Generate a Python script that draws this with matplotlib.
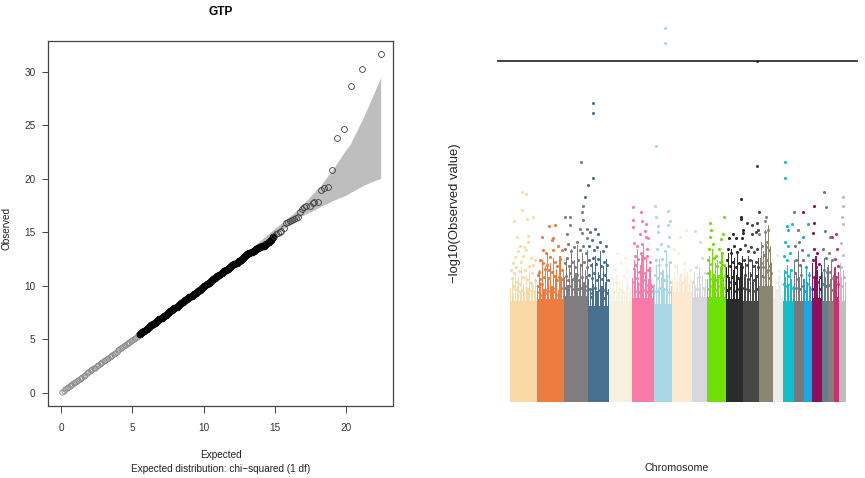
import matplotlib
matplotlib.use('Agg')
import matplotlib.pyplot as plt
import numpy as np

plt.rcParams['font.family'] = ['Liberation Sans', 'DejaVu Sans']

# QQ plot
low_exp = [0.1, 0.2, 0.3, 0.4, 0.5, 0.6, 0.7, 0.8, 0.9, 1.0, 1.1, 1.2, 1.3, 1.4, 1.5, 1.6, 1.7, 1.8, 1.9, 2.0,
           2.1, 2.2, 2.3, 2.4, 2.5, 2.6, 2.7, 2.8, 2.9, 3.0, 3.1, 3.2, 3.3, 3.4, 3.5, 3.6, 3.7, 3.8, 3.9, 4.0,
           4.1, 4.2, 4.3, 4.4, 4.5, 4.6, 4.7, 4.8, 4.9, 5.0, 5.1, 5.2, 5.3, 5.4, 5.5]
low_obs = [0.1, 0.2, 0.3, 0.4, 0.5, 0.6, 0.7, 0.8, 0.9, 1.0, 1.1, 1.2, 1.3, 1.4, 1.5, 1.6, 1.7, 1.8, 1.9, 2.0,
           2.1, 2.2, 2.3, 2.35, 2.45, 2.55, 2.65, 2.75, 2.85, 2.95, 3.05, 3.15, 3.25, 3.35, 3.45, 3.55, 3.65, 3.75,
           3.85, 3.95, 4.05, 4.15, 4.25, 4.35, 4.45, 4.55, 4.65, 4.75, 4.85, 4.95, 5.05, 5.15, 5.25, 5.35, 5.45]
mid_exp = [5.55, 5.7, 5.85, 6.0, 6.15, 6.3, 6.45, 6.6, 6.75, 6.9, 7.05, 7.2, 7.35, 7.5, 7.65, 7.8, 7.95, 8.1, 8.25,
           8.4, 8.55, 8.7, 8.85, 9.0, 9.15, 9.3, 9.45, 9.6, 9.75, 9.9, 10.05, 10.2, 10.35, 10.5, 10.65, 10.8, 10.95,
           11.1, 11.25, 11.4, 11.55, 11.7, 11.85, 12.0, 12.15, 12.3, 12.45, 12.6, 12.75, 12.9, 13.05, 13.2, 13.35,
           13.5, 13.65, 13.8, 13.95, 14.1, 14.25, 14.4, 14.55, 14.7, 14.85]
mid_obs = [5.5, 5.65, 5.8, 6.0, 6.15, 6.3, 6.4, 6.55, 6.7, 6.85, 7.0, 7.15, 7.3, 7.45, 7.6, 7.75, 7.9, 8.05, 8.2,
           8.35, 8.5, 8.65, 8.8, 8.95, 9.05, 9.2, 9.35, 9.5, 9.65, 9.8, 10.0, 10.2, 10.3, 10.45, 10.6, 10.75, 10.9,
           11.05, 11.2, 11.35, 11.45, 11.6, 11.75, 11.9, 12.0, 12.15, 12.3, 12.45, 12.6, 12.8, 12.98, 13.05, 13.2,
           13.3, 13.45, 13.55, 13.65, 13.7, 13.75, 13.95, 14.1, 14.3, 14.6]
tail_exp = [14.9, 15.05, 15.2, 15.35, 15.45, 15.6, 15.75, 15.9, 16.05, 16.2, 16.35, 16.5, 16.6, 16.75, 16.9, 17.05,
            17.2, 17.45, 17.65, 17.75, 18.0, 18.2, 18.45, 18.7, 19.0, 19.35, 19.8, 20.3, 21.1, 22.4]
tail_obs = [14.7, 14.8, 14.95, 15.05, 15.1, 15.4, 15.9, 16.0, 16.1, 16.15, 16.25, 16.35, 16.4, 16.9, 17.2, 17.35,
            17.45, 17.45, 17.7, 17.85, 17.85, 19.0, 19.15, 19.2, 20.8, 23.8, 24.7, 28.7, 30.3, 31.7]
band_x = [12.6, 13.4, 14.2, 15.1, 16.3, 16.75, 17.9, 18.15, 19.1, 20.0, 20.25, 21.2, 21.8, 22.4]
band_hi = [12.7, 13.6, 14.5, 15.5, 16.8, 17.3, 19.0, 19.3, 21.0, 22.8, 23.2, 25.8, 27.6, 29.5]
band_lo = [12.5, 13.3, 14.0, 14.9, 16.0, 16.45, 17.2, 17.4, 18.0, 18.5, 18.7, 19.4, 19.75, 20.05]

# Manhattan plot: chromosome spans, solid height and the hits above it
chrom_start = [13, 39.7, 67, 91, 112.3, 134.7, 157, 175, 194.7, 209.7, 229, 246.3, 262.3, 275.7, 286.3, 297, 307,
               314.7, 325, 331, 337, 342.3]
chrom_end = [39.7, 67, 91, 112.3, 134.7, 157, 175, 194.7, 209.7, 229, 246.3, 262.3, 275.7, 286.3, 297, 307, 314.7,
             325, 331, 337, 342.3, 349]
chrom_top = [8.6, 8.7, 9.0, 8.1, 8.6, 8.8, 8.3, 9.3, 8.9, 8.9, 8.7, 8.6, 9.8, 8.8, 8.6, 8.6, 8.6, 8.8, 8.6, 8.6,
             8.9, 8.6]
chrom_color = ['#FBD9A5', '#EE7B3F', '#7F7D7D', '#4A7090', '#F5F1DC', '#FB7BA8', '#A8D8E6', '#FCE9D0', '#D5D8DC',
               '#6FE000', '#2B2B2B', '#474747', '#8A8670', '#ECECEC', '#10BFCC', '#7B7678', '#18A8E8', '#8E0E58',
               '#5F7F8C', '#8A7A78', '#C8306E', '#BCC0BC']
chrom_fringe = [
    [9.6, 10.4, 9.2, 11, 9.8, 10.6, 9.4, 11.4, 10, 9.3, 10.8, 9.7, 11.2, 9.5, 10.2, 9.2, 10.5],
    [9.9, 11.2, 10.2, 12, 9.6, 11.5, 12.6, 10.4, 11.8, 9.8, 12.2, 10.8, 11.3, 9.5, 12.4, 10.6, 11],
    [10.6, 12.2, 9.9, 11.4, 13, 10.4, 12, 10.9, 13.3, 10.2, 11.7, 12.6, 10.1, 11.2, 12.9],
    [10.4, 9.5, 11.8, 10, 12.4, 9.4, 11, 12.8, 9.8, 11.5, 10.2, 12.1, 9.6],
    [9.8, 9.2, 10.2, 9.5, 10.8, 9.3, 10, 9.6, 10.4, 9.2, 9.9, 10.6, 9.4, 9.7],
    [10.5, 12, 11.3, 13, 10.2, 11.6, 12.5, 13.4, 11, 12.2, 10.4, 11.4, 10, 9.8],
    [10, 11.6, 9.6, 12.2, 10.6, 11.2, 9.7, 12.6, 10.4, 11.8, 9.8],
    [10.4, 11, 10.2, 11.6, 10.6, 10.9, 10.2, 11.3, 10.5, 11, 10.2, 10.6],
    [10.2, 11, 9.8, 10.6, 11.4, 10, 10.8, 9.7, 10.4],
    [10.4, 12.4, 11.2, 13, 10.6, 11.8, 12, 10.8, 11.4, 12.7, 10.6, 11.6],
    [11.4, 12.6, 10.6, 13, 11.2, 12.2, 10.8, 12.8, 10.4, 11.8, 12.4],
    [10.6, 11.8, 10.4, 12.4, 11, 12, 10.2, 11.6, 10.8, 12.2],
    [12.2, 13.6, 12.8, 14.6, 13.4, 15, 13.2, 11.8],
    [9.8, 10.4, 9.6, 10.8, 9.8, 9.4],
    [11.2, 10.6, 11.6, 10, 11.2, 10.4, 9.8],
    [12, 11, 12.8, 10.6, 11.6, 10.4],
    [10.4, 11.4, 10.2, 11, 9.8],
    [11.8, 10.6, 12.4, 11.2, 10.4, 11.6],
    [11, 12.2, 10.6, 11.4],
    [11.6, 10.4, 12, 10.8],
    [11.4, 10.4, 11],
    [11.8, 10.6, 11.2, 10.2],
]
chrom_hits = [
    [(14, 11.2), (15, 10.5), (16, 11.8), (16, 9.8), (17, 10.9), (18, 12.3), (18, 9.6), (19, 11.4), (20, 10.2),
     (21, 12.8), (21, 9.4), (22, 11.1), (23, 13.2), (23, 10), (24, 11.9), (25, 9.5), (26, 12.4), (26, 10.6),
     (27, 13.1), (28, 11.2), (29, 9.7), (29, 12.9), (30, 10.4), (31, 13.6), (32, 11.5), (32, 9.5), (33, 10.1),
     (34, 12.2), (35, 9.8), (35, 10.9), (36, 11.6), (37, 9.4), (38, 10.3), (38, 12), (25.3, 17.8), (29, 17.6),
     (24.7, 16.3), (17, 15.3), (29.7, 15.5), (36, 15.7), (20, 14), (30.7, 14.1)],
    [(51.7, 14.9), (58, 15), (44.7, 14), (56.3, 13.9), (54.7, 13.7), (46.3, 12.9), (61.3, 13.2), (64.7, 12.9),
     (53, 12.3), (43, 12), (58, 11.9), (48, 11.3), (54.7, 11), (64.7, 11.2), (41.3, 10.8), (51.3, 10.5),
     (59.7, 10.3), (44.7, 10), (56.3, 9.7), (66.3, 9.7), (48, 9.5), (42, 9.3), (45, 9.1), (50, 9.2), (53, 9.4),
     (55, 9.0), (58, 9.3), (61, 9.1), (63, 9.8), (65, 10.4), (41, 9.8), (43, 10.4), (47, 10.6), (50, 11.6),
     (52, 11.2), (57, 10.7), (60, 11.5), (62, 10.6), (49, 12.6), (56, 12.9), (46, 11.8), (42, 11), (63, 12.1)],
    [(68, 15.7), (73, 15.7), (73, 15), (84.3, 20.3), (86.3, 16.6), (84.7, 16.1), (85.7, 15.4), (83, 14.7),
     (89.7, 14.7), (84.7, 14.3), (69.7, 14.2), (89.7, 13.9), (68, 13), (71, 13.4), (74, 12.8), (77, 13.1),
     (80, 13.6), (83, 12.9), (86, 13.2), (89, 12.6), (68, 11.8), (70, 12.2), (72, 11.5), (75, 11.9), (78, 11.4),
     (81, 12), (84, 11.6), (87, 11.9), (90, 11.4), (69, 10.7), (71, 10.3), (73, 10.9), (76, 10.4), (78, 10.1),
     (80, 10.8), (82, 10.3), (85, 10.6), (87, 10.1), (89, 10.6), (68, 9.7), (70, 9.5), (74, 9.8), (77, 9.6),
     (81, 9.6), (84, 9.7), (88, 9.5), (90, 9.8)],
    [(96.3, 25.3), (96.3, 24.5), (96.3, 19), (91, 18.4), (88, 17.4), (93, 14.4), (98, 14.7), (100.7, 14.2),
     (92, 13.2), (95, 13.7), (97, 12.9), (100, 13.1), (103, 13.6), (106, 12.8), (109, 13.2), (92, 12), (94, 11.6),
     (96, 12.2), (99, 11.7), (101, 12.1), (104, 11.5), (107, 11.9), (110, 11.6), (92, 10.8), (95, 10.5),
     (97, 10.9), (100, 10.3), (102, 10.7), (105, 10.4), (108, 10.8), (111, 10.3), (93, 9.6), (95, 9.2), (98, 9.7),
     (100, 9.2), (103, 9.5), (105, 9.1), (108, 9.5), (110, 9.2), (94, 8.9), (99, 8.8), (104, 8.9), (107, 8.8)],
    [(115, 10.5), (118, 11.3), (121, 10.1), (124, 11.8), (127, 10.7), (130, 11.1), (117, 9.4), (122, 9.6),
     (126, 9.3), (131, 9.7), (120, 12.6), (128, 12.2)],
    [(136.3, 16.5), (144, 16.1), (136.3, 15.4), (144.7, 15.3), (148.7, 15.1), (135.7, 14.8), (148.3, 14.5),
     (143, 14.2), (148.7, 14), (151.3, 13.9), (137, 13.5), (140, 13.2), (145, 13.4), (150, 13), (138, 12.4),
     (141, 12.1), (144, 12.6), (147, 12.2), (150, 12.4), (153, 11.9), (137, 11.3), (139, 11.6), (142, 11),
     (145, 11.4), (148, 10.9), (151, 11.2), (137, 10.2), (140, 10.5), (143, 10), (146, 10.3), (149, 9.9),
     (152, 10.2), (155, 9.8), (138, 9.4), (142, 9.3), (146, 9.5), (150, 9.3), (154, 9.4)],
    [(168, 31.7), (168, 30.4), (158.7, 21.7), (158, 16.6), (170.7, 16.2), (158.7, 15.7), (173, 15.3), (161.3, 14.9),
     (170.7, 15), (161.3, 14.4), (172, 14), (160, 13), (164, 13.4), (168, 12.8), (171, 13.2), (159, 12), (162, 11.6),
     (165, 12.1), (169, 11.6), (173, 11.9), (158, 10.8), (161, 10.5), (164, 10.9), (167, 10.3), (170, 10.7),
     (173, 10.2), (159, 9.4), (162, 9.7), (166, 9.2), (169, 9.6), (172, 9.3)],
    [(178, 11.5), (181, 12.6), (184, 10.8), (187, 11.8), (190, 10.6), (193, 11.2), (180, 10.1), (186, 10.2),
     (191, 9.9), (183, 14), (189, 14.6), (177, 13)],
    [(196, 10.2), (199, 11.4), (202, 10.6), (205, 12.2), (208, 10.9), (200, 9.6), (206, 9.7), (203, 13.6), (198, 14.5)],
    [(213.3, 15.2), (214, 14.6), (213, 14), (227, 15.7), (226.3, 14.2), (224, 13.8), (216, 13.4), (212, 13),
     (219, 12.4), (222, 13), (225, 12.6), (211, 12), (214, 11.7), (217, 12.2), (220, 11.5), (223, 11.9), (227, 11.6),
     (211, 10.9), (213, 10.4), (216, 10.8), (219, 10.3), (222, 10.7), (225, 10.3), (228, 10.7), (212, 9.6),
     (215, 9.8), (218, 9.5), (221, 9.8), (224, 9.5), (227, 9.7)],
    [(243.7, 17.2), (243.7, 15.7), (243.7, 15.5), (245.7, 14.6), (245.7, 14.3), (236.3, 14.2), (232.3, 13.9),
     (238.7, 13.9), (244.7, 13.9), (231, 13), (234, 12.6), (237, 13.2), (240, 12.7), (243, 13), (230, 12), (233, 11.5),
     (236, 11.9), (239, 11.4), (242, 11.8), (245, 11.4), (230, 10.7), (232, 10.2), (235, 10.6), (238, 10.1),
     (241, 10.5), (244, 10.1), (230, 9.5), (233, 9.7), (237, 9.4), (240, 9.6), (243, 9.4), (245, 9.7)],
    [(260.3, 28.9), (260.3, 20), (262.3, 16.1), (249.7, 15.2), (254.7, 15), (254.7, 14.2), (258.7, 14.4), (261.3, 14.6),
     (260.3, 15.2), (248, 13.3), (251, 12.8), (254, 13.1), (257, 12.7), (260, 13), (247, 12), (250, 11.6), (253, 12),
     (256, 11.5), (259, 11.9), (261, 11.4), (248, 10.8), (251, 10.4), (254, 10.8), (257, 10.3), (260, 10.7),
     (248, 9.6), (252, 9.5), (256, 9.4), (260, 9.6)],
    [(268, 15.3), (269, 15.7), (268, 14.4), (271.3, 14.6), (262.3, 14.2), (270, 13.6), (265, 13.2), (272, 12.9),
     (267, 12.5), (270, 12), (264, 11.8), (273, 11.5), (266, 11.4), (269, 11), (271, 11.2), (265, 10.7), (268, 10.6),
     (272, 10.5), (274, 10.9), (269, 13.1)],
    [(279, 10.2), (282, 11.1), (284, 10), (280, 12.5)],
    [(288, 20.3), (288, 19), (289.7, 14.9), (291.3, 14.6), (295.3, 15.1), (288, 13.6), (291, 13.2), (287, 12.4),
     (290, 12), (293, 12.6), (288, 11), (291, 10.7), (294, 11.2), (287, 10), (290, 9.8), (293, 10), (296, 9.7)],
    [(297, 16.1), (301.3, 14.6), (298, 13.2), (302, 13.6), (305, 12.9), (299, 12), (303, 11.6), (306, 12), (298, 10.9),
     (301, 10.4), (304, 10.8), (299, 9.7), (303, 9.6), (306, 9.8)],
    [(306.3, 14), (310.7, 15.1), (311, 12.5), (309, 11.4), (312, 10.8), (310, 10), (313, 9.6), (308, 9.4)],
    [(306.3, 16.1), (317, 16.6), (317, 15.2), (316.3, 14.3), (317, 13), (320, 12.6), (316, 12), (319, 11.4), (322, 11.7),
     (317, 10.6), (320, 10.2), (323, 10.6), (316, 9.6), (319, 9.5), (323, 9.6)],
    [(327, 17.8), (328, 14.5), (326, 13), (329, 12.2), (327, 11.2), (330, 11), (326, 10), (329, 9.8)],
    [(329, 16.5), (333, 14), (332, 12.6), (335, 12), (333, 11), (336, 10.5), (332, 9.9), (335, 9.5)],
    [(334.7, 14), (338.7, 14.2), (340, 13), (338, 12.1), (341, 11.5), (339, 10.6), (341, 10), (338, 9.8)],
    [(345.7, 17.4), (345.7, 16.6), (345.3, 15.7), (345.7, 15.1), (344, 13.5), (346, 12.5), (344, 11.4), (347, 10.6),
     (345, 9.8)],
]
threshold = 28.9

fig = plt.figure(figsize=(8.65, 4.78), dpi=100)
W, H = 865.0, 478.0

# left panel
ax = fig.add_axes([48 / W, 1 - 405.5 / H, 345.5 / W, 364.5 / H])
ax.fill_between(band_x, band_lo, band_hi, color='#BEBEBE', lw=0)
ax.plot(low_exp, low_obs, 'o', mfc='none', mec='#858585', ms=3.8, mew=0.6)
ax.plot(mid_exp, mid_obs, 'o', mfc='black', mec='black', ms=4.8, mew=0.7)
ax.plot(tail_exp, tail_obs, 'o', mfc='none', mec='#3C3C3C', ms=4.2, mew=0.6)
ax.set_xlim(-0.91, 23.3)
ax.set_ylim(-1.2, 32.9)
ax.set_xticks([0, 5, 10, 15, 20])
ax.set_yticks([0, 5, 10, 15, 20, 25, 30])
ax.tick_params(labelsize=7.2, width=0.7, color='#444444', labelcolor='#333333')
ax.tick_params(axis='x', length=5.3, pad=7)
ax.tick_params(axis='y', length=4.5, pad=4.5)
for s in ax.spines.values():
    s.set_linewidth(0.9)
    s.set_color('#444444')
fig.text(221 / W, 1 - 12 / H, 'GTP', ha='center', va='center', fontsize=8.6, fontweight='bold')
fig.text(221 / W, 1 - 455 / H, 'Expected', ha='center', va='center', fontsize=7.2, color='#222222')
fig.text(221 / W, 1 - 469 / H, 'Expected distribution: chi\u2212squared (1 df)', ha='center', va='center',
         fontsize=7.2, color='#222222')
fig.text(7 / W, 1 - 229 / H, 'Observed', rotation=90, ha='center', va='center', fontsize=7.2, color='#222222')

# right panel
mh = fig.add_axes([497 / W, 1 - 402 / H, 361 / W, 382 / H])
widths = [e - s for s, e in zip(chrom_start, chrom_end)]
mh.bar(chrom_start, chrom_top, width=widths, align='edge', color=chrom_color, lw=0)
for start, end, fringe, col in zip(chrom_start, chrom_end, chrom_fringe, chrom_color):
    n = len(fringe)
    step = (end - start) / n
    mh.bar(np.linspace(start + step / 2, end - step / 2, n), fringe, width=step * 0.72, color=col, lw=0)
for hits, col in zip(chrom_hits, chrom_color):
    mh.scatter([h[0] for h in hits], [h[1] for h in hits], s=5, color=col, lw=0)
mh.axhline(threshold, color='#222222', lw=1.2)
mh.set_xlim(0, 361)
mh.set_ylim(0, 382 / 11.8)
mh.axis('off')
fig.text(455 / W, 1 - 213 / H, '\u2212log10(Observed value)', rotation=90, ha='center', va='center', fontsize=9.4,
         color='#222222')
fig.text(677 / W, 1 - 468 / H, 'Chromosome', ha='center', va='center', fontsize=7.7, color='#222222')

fig.savefig('out.png', dpi=100)
